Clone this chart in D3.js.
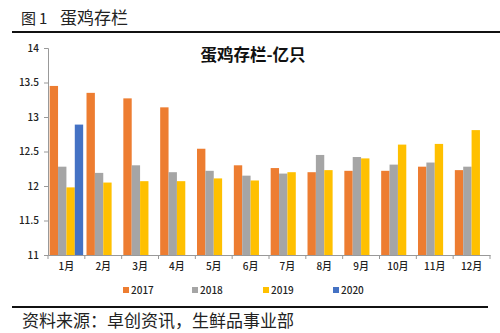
<!DOCTYPE html>
<html><head><meta charset="utf-8">
<script src="https://cdn.jsdelivr.net/npm/d3@7"></script>
<style>body{margin:0;background:#fff;}svg{display:block;}</style>
</head><body>
<svg id="c" width="500" height="333"></svg>
<script>
const months = ["1月","2月","3月","4月","5月","6月","7月","8月","9月","10月","11月","12月"];
const seriesNames = ["2017","2018","2019","2020"];
const v2017 = [13.45,13.35,13.27,13.14,12.54,12.30,12.26,12.20,12.22,12.22,12.28,12.23];
const v2018 = [12.28,12.19,12.30,12.20,12.22,12.15,12.18,12.45,12.42,12.31,12.34,12.28];
const v2019 = [11.98,12.05,12.07,12.07,12.11,12.08,12.20,12.23,12.40,12.60,12.61,12.81];
const v2020 = [12.89,null,null,null,null,null,null,null,null,null,null,null];
const yTicks = [11,11.5,12,12.5,13,13.5,14];
const colors = ["#ED7D31","#A5A5A5","#FFC000","#4472C4"];
const allSeries = [v2017,v2018,v2019,v2020];

const svg = d3.select("#c");
const font = "'Noto Sans CJK SC','Noto Sans',sans-serif";

// header
svg.append("text").attr("x",21).attr("y",24).attr("font-family",font).attr("font-size",15)
  .attr("fill","#222").text("图");
svg.append("text").attr("x",39).attr("y",24).attr("font-family",font).attr("font-size",15)
  .attr("fill","#222").text("1");
svg.append("text").attr("x",60).attr("y",24).attr("font-family",font).attr("font-size",17)
  .attr("fill","#222").text("蛋鸡存栏");
svg.append("line").attr("x1",12).attr("x2",500).attr("y1",32).attr("y2",32).attr("stroke","#111").attr("stroke-width",2);

const L=48,R=490,T=48,B=255;
const x = d3.scaleBand().domain(months).range([L,R]).paddingInner(0).paddingOuter(0);
const x1 = d3.scaleBand().domain(seriesNames).range([0,x.bandwidth()]).paddingOuter(0.2).paddingInner(0);
const y = d3.scaleLinear().domain([11,14]).range([B,T]);

// bars
seriesNames.forEach((s,i)=>{
  svg.append("g").selectAll("rect").data(allSeries[i].map((v,j)=>({v,m:months[j]})).filter(d=>d.v!=null))
    .join("rect")
    .attr("x",d=>x(d.m)+x1(s)).attr("width",x1.bandwidth())
    .attr("y",d=>y(d.v)).attr("height",d=>B-y(d.v)).attr("fill",colors[i]);
});

// y axis
const ya = svg.append("g").attr("transform",`translate(${L},0)`)
  .call(d3.axisLeft(y).tickValues(yTicks).tickFormat(d3.format("")).tickSize(4));
ya.select(".domain").attr("stroke","#999");
ya.selectAll(".tick line").attr("stroke","#999");
ya.selectAll("text").attr("font-family",font).attr("font-size",10).attr("font-weight",500).attr("fill","#222").attr("x",-9);

// x axis
const xa = svg.append("g").attr("transform",`translate(0,${B})`)
  .call(d3.axisBottom(x).tickSize(0).tickSizeOuter(0));
xa.select(".domain").attr("stroke","#999");
xa.selectAll("text").attr("font-family",font).attr("font-size",10).attr("font-weight",500).attr("fill","#222").attr("dy","1.2em");
// boundary ticks
svg.append("g").selectAll("line").data(d3.range(13)).join("line")
  .attr("x1",i=>L+i*x.step()).attr("x2",i=>L+i*x.step())
  .attr("y1",B).attr("y2",B+4).attr("stroke","#999");

// chart title
svg.append("text").attr("x",253).attr("y",61).attr("text-anchor","middle")
  .attr("font-family","'Noto Sans CJK SC',serif").attr("font-weight","bold").attr("font-size",16.5)
  .attr("fill","#111").text("蛋鸡存栏-亿只");

// legend
const lx=[123,192,263,333];
seriesNames.forEach((s,i)=>{
  svg.append("rect").attr("x",lx[i]).attr("y",287).attr("width",6).attr("height",6).attr("fill",colors[i]);
  svg.append("text").attr("x",lx[i]+8).attr("y",294).attr("font-family",font).attr("font-size",10).attr("font-weight",500)
    .attr("fill","#222").text(s);
});

svg.append("line").attr("x1",12).attr("x2",488).attr("y1",307).attr("y2",307).attr("stroke","#111").attr("stroke-width",2);
svg.append("text").attr("x",22).attr("y",327).attr("font-family",font).attr("font-size",17)
  .attr("fill","#222").text("资料来源：卓创资讯，生鲜品事业部");
</script>
</body></html>
